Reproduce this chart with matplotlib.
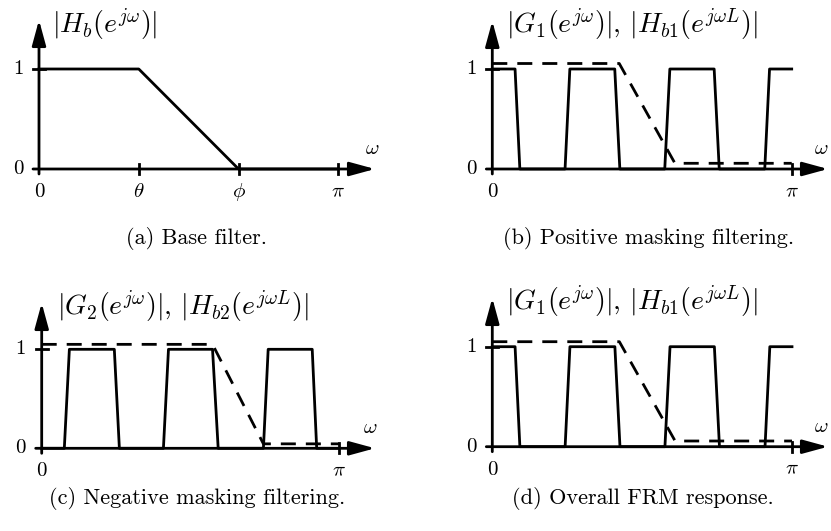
import matplotlib
matplotlib.use("Agg")
import matplotlib.pyplot as plt

plt.rcParams['mathtext.fontset'] = 'cm'
plt.rcParams['font.family'] = ['cmr10', 'DejaVu Serif']
plt.rcParams['axes.unicode_minus'] = False

W, H = 831, 531

# ---------------- data (frequency in units of pi) ----------------
# (a) base filter
base_w = [0.0, 1/3, 2/3, 1.0]
base_mag = [1.0, 1.0, 0.0, 0.0]
base_ticks = [1/3, 2/3, 1.0]
base_ticklabels = [r'$\theta$', r'$\phi$', r'$\pi$']

# (b)/(d) positive masking filter G1 and Hb1
g1_w = [0.0, 0.076, 0.092, 0.243, 0.259, 0.409, 0.426, 0.576, 0.593,
        0.741, 0.758, 0.910, 0.926, 1.0]
g1_mag = [1, 1, 0, 0, 1, 1, 0, 0, 1, 1, 0, 0, 1, 1]
hb1_w = [0.0, 0.424, 0.610, 1.0]
hb1_mag = [1.055, 1.055, 0.057, 0.057]

# (c) negative masking filter G2 and Hb2
g2_w = [0.0, 0.076, 0.093, 0.244, 0.261, 0.409, 0.426, 0.574, 0.593,
        0.745, 0.761, 0.909, 0.924, 1.0]
g2_mag = [0, 0, 1, 1, 0, 0, 1, 1, 0, 0, 1, 1, 0, 0]
hb2_w = [0.0, 0.574, 0.745, 1.0]
hb2_mag = [1.05, 1.05, 0.045, 0.045]

# (d) overall response (as drawn)
d_w = g1_w
d_mag = g1_mag
dh_w = hb1_w
dh_mag = [1.05, 1.05, 0.057, 0.057]

ylabels = [r'$|H_b(e^{j\omega})|$',
           r'$|G_1(e^{j\omega})|,\,|H_{b1}(e^{j\omega L})|$',
           r'$|G_2(e^{j\omega})|,\,|H_{b2}(e^{j\omega L})|$',
           r'$|G_1(e^{j\omega})|,\,|H_{b1}(e^{j\omega L})|$']
captions = ['(a) Base filter.', '(b) Positive masking filtering.',
            '(c) Negative masking filtering.', '(d) Overall FRM response.']

LW = 2.0
FS = 15
FS_LAB = 20
FS_CAP = 16
fig = plt.figure(figsize=(W / 100, H / 100), dpi=100)


def panel(x0, xpi, y0, y1, xtip, ytip, ylab_dx, ylab_dy, ylab, wx):
    ax = fig.add_axes([x0 / W, 1 - y0 / H, (xpi - x0) / W, (y0 - y1) / H])
    ax.set_xlim(0, 1)
    ax.set_ylim(0, 1)
    ax.axis('off')
    sx = xpi - x0
    sy = y0 - y1
    ap = dict(arrowstyle='-|>,head_length=1.1,head_width=0.3', lw=LW,
              color='black', mutation_scale=14, shrinkA=0, shrinkB=0)
    ax.annotate('', xy=((xtip - x0) / sx, 0), xytext=(-6 / sx, 0),
                arrowprops=ap, annotation_clip=False)
    ax.annotate('', xy=(0, (y0 - ytip) / sy), xytext=(0, -5 / sy),
                arrowprops=ap, annotation_clip=False)
    ax.plot([-6 / sx, 6 / sx], [1, 1], color='black', lw=LW, clip_on=False)
    ax.text(-21 / sx, 1, '1', ha='center', va='center', fontsize=FS)
    ax.text(-21 / sx, 0, '0', ha='center', va='center', fontsize=FS)
    ax.text(0, -23 / sy, '0', ha='center', va='center', fontsize=FS)
    ax.text((wx - x0) / sx, 20 / sy, r'$\omega$', ha='center',
            va='center', fontsize=FS)
    ax.text(ylab_dx / sx, 1 + ylab_dy / sy, ylab, ha='left', va='center',
            fontsize=FS_LAB)
    return ax, sx, sy


def xtick(ax, sx, sy, w, lab):
    ax.plot([w, w], [-5 / sy, 5 / sy], color='black', lw=LW, clip_on=False)
    ax.text(w, -23 / sy, lab, ha='center', va='center', fontsize=FS)


dash = (0, (5.4, 3.6))

# (a)
ax, sx, sy = panel(39, 338.3, 169, 69, 375, 20, 13, 44, ylabels[0], 372)
ax.plot(base_w, base_mag, color='black', lw=LW, clip_on=False)
for w, lab in zip(base_ticks, base_ticklabels):
    xtick(ax, sx, sy, w, lab)

# (b)
ax, sx, sy = panel(492.3, 791.7, 169, 69, 828, 21, 14, 44, ylabels[1], 821)
ax.plot(hb1_w, hb1_mag, color='black', lw=LW, ls=dash, clip_on=False)
ax.plot(g1_w, g1_mag, color='black', lw=LW, clip_on=False)
xtick(ax, sx, sy, 1.0, r'$\pi$')

# (c)
ax, sx, sy = panel(41.7, 339.3, 448.3, 349.3, 375, 303, 15, 42.6,
                   ylabels[2], 370)
ax.plot(hb2_w, hb2_mag, color='black', lw=LW, ls=dash, clip_on=False)
ax.plot(g2_w, g2_mag, color='black', lw=LW, clip_on=False)
xtick(ax, sx, sy, 1.0, r'$\pi$')

# (d)
ax, sx, sy = panel(492.3, 792, 446.7, 346.7, 828, 298, 14, 45,
                   ylabels[3], 821)
ax.plot(dh_w, dh_mag, color='black', lw=LW, ls=dash, clip_on=False)
ax.plot(d_w, d_mag, color='black', lw=LW, clip_on=False)
xtick(ax, sx, sy, 1.0, r'$\pi$')

# captions
for (cx, cy), cap in zip([(197, 238), (649, 238), (197, 499), (643, 499)],
                         captions):
    fig.text(cx / W, 1 - cy / H, cap, ha='center', va='center',
             fontsize=FS_CAP)

fig.savefig('out.png', dpi=100)
